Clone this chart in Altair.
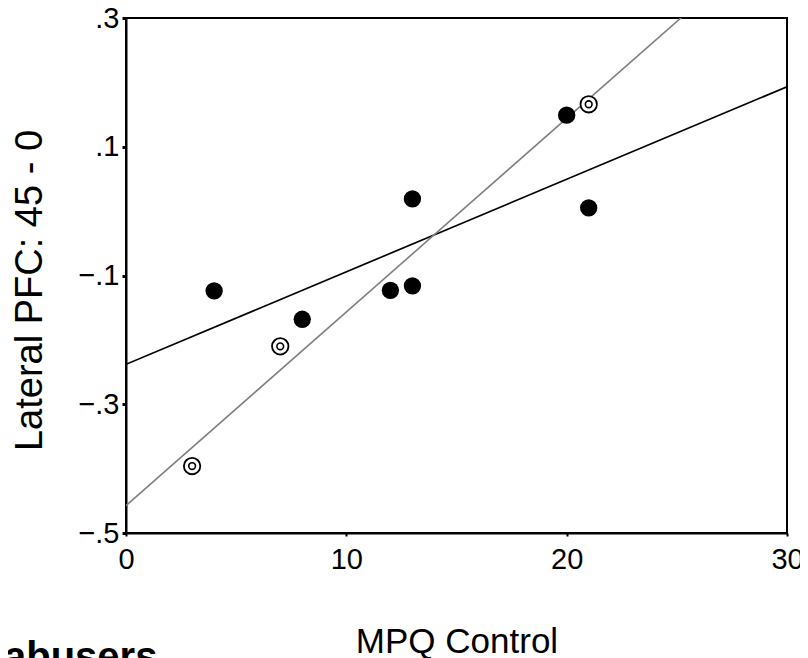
import altair as alt
import pandas as pd

# data
filled_x = [4, 8, 12, 13, 13, 20, 21]
filled_y = [-0.124, -0.168, -0.123, -0.116, 0.019, 0.149, 0.005]
open_x = [3, 7, 21]
open_y = [-0.396, -0.210, 0.166]

x_ticks = [0, 10, 20, 30]
y_ticks = [-0.5, -0.3, -0.1, 0.1, 0.3]
x_title = "MPQ Control"
y_title = "Lateral PFC: 45 - 0"
note_text = "abusers"

FONT = "Liberation Sans"

filled = pd.DataFrame({"x": filled_x, "y": filled_y})
opened = pd.DataFrame({"x": open_x, "y": open_y})
note = pd.DataFrame({"t": [note_text]})

W, H = 661, 515

xs = alt.Scale(domain=[0, 30], nice=False, zero=False)
ys = alt.Scale(domain=[-0.5, 0.3], nice=False, zero=False)

xax = alt.Axis(values=x_ticks, title=x_title, grid=False, labelFontSize=29,
               titleFontSize=35, titleFontWeight="normal", titleBaseline="alphabetic",
               titleY=119, tickSize=3, tickWidth=2, labelPadding=9,
               domainColor="black", domainWidth=2, tickColor="black",
               labelColor="black", titleColor="black", labelFont=FONT, titleFont=FONT,
               labelFlush=False)
yax = alt.Axis(values=y_ticks, title=y_title, grid=False, labelFontSize=29,
               labelExpr="replace(format(datum.value, '.1f'), '0.', '.')",
               titleFontSize=38, titleFontWeight="normal", titleBaseline="alphabetic",
               titleX=-85, titleY=272, titleAngle=270, titleAlign="center",
               tickSize=4, tickWidth=3, labelPadding=3,
               domainColor="black", domainWidth=2, tickColor="black",
               labelColor="black", titleColor="black", labelFont=FONT, titleFont=FONT,
               labelFlush=False)

black_line = alt.Chart(filled).transform_regression(
    "x", "y", extent=[0, 30]
).mark_line(color="black", strokeWidth=1.7, clip=True).encode(
    x=alt.X("x:Q", scale=xs, axis=xax),
    y=alt.Y("y:Q", scale=ys, axis=yax),
)

grey_line = alt.Chart(opened).transform_regression(
    "x", "y", extent=[0, 30]
).mark_line(color="#808080", strokeWidth=1.6, clip=True).encode(
    x=alt.X("x:Q", scale=xs),
    y=alt.Y("y:Q", scale=ys),
)

dots = alt.Chart(filled).mark_circle(color="black", opacity=1, size=300).encode(
    x=alt.X("x:Q", scale=xs),
    y=alt.Y("y:Q", scale=ys),
)

ring_outer = alt.Chart(opened).mark_point(
    shape="circle", filled=False, fill="white", fillOpacity=1, stroke="black",
    strokeWidth=1.8, size=270, opacity=1
).encode(
    x=alt.X("x:Q", scale=xs),
    y=alt.Y("y:Q", scale=ys),
)

ring_inner = alt.Chart(opened).mark_point(
    shape="circle", filled=False, stroke="black", strokeWidth=1.6, size=45, opacity=1
).encode(
    x=alt.X("x:Q", scale=xs),
    y=alt.Y("y:Q", scale=ys),
)

note_mark = alt.Chart(note).mark_text(
    align="left", baseline="alphabetic", fontSize=40, fontWeight="bold",
    font=FONT, color="black"
).encode(
    text="t:N",
    x=alt.value(-122),
    y=alt.value(652),
)

chart = alt.layer(black_line, grey_line, dots, ring_outer, ring_inner, note_mark).properties(
    width=W, height=H,
    background="white",
    autosize=alt.AutoSizeParams(type="none"),
    padding={"left": 118, "top": 10, "right": 13, "bottom": 130},
).configure_view(
    stroke="black", strokeWidth=2
)

chart.save("out.html", embed_options={"renderer": "svg", "actions": False})
